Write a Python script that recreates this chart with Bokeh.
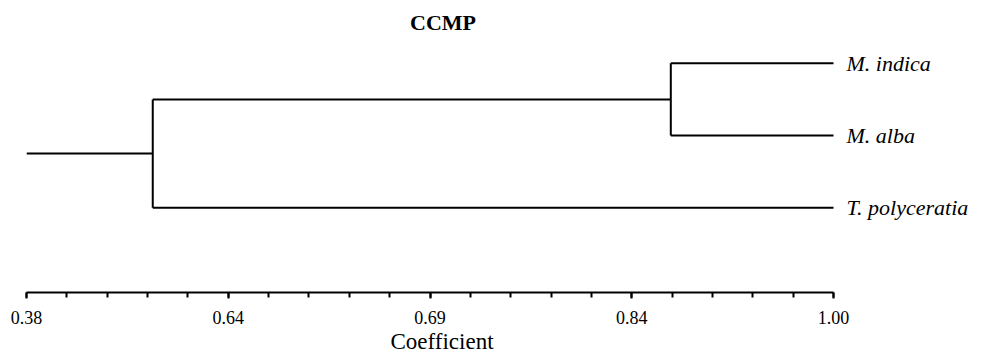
from bokeh.plotting import figure
from bokeh.models import Range1d, FixedTicker, Label, ColumnDataSource, Title
from bokeh.core.properties import value
from bokeh.embed import file_html
from bokeh.resources import INLINE

# ---- data ----
title_text = "CCMP"
axis_title = "Coefficient"
leaves = ["M. indica", "M. alba", "T. polyceratia"]
leaf_rank = [3, 2, 1]              # vertical order (top to bottom)
leaf_coef = [1.00, 1.00, 1.00]     # leaves at similarity 1.00
node_mulberry = 0.875              # M. indica + M. alba join
node_root = 0.477                  # (M. indica, M. alba) + T. polyceratia join
root_start = 0.38
tick_values = [0.38, 0.535, 0.69, 0.845, 1.00]
tick_labels = ["0.38", "0.64", "0.69", "0.84", "1.00"]

SERIF = "Liberation Serif"

# ---- build dendrogram segments from the merge values ----
yi, ya, yt = leaf_rank
y_m = (yi + ya) / 2.0
y_r = (y_m + yt) / 2.0
x0 = [node_mulberry, node_mulberry, node_mulberry, node_root, node_root, node_root, root_start]
y0 = [yi, ya, ya, y_m, yt, yt, y_r]
x1 = [leaf_coef[0], leaf_coef[1], node_mulberry, node_mulberry, leaf_coef[2], node_root, node_root]
y1 = [yi, ya, yi, y_m, yt, y_m, y_r]

W, H = 982, 353
left_border = 26
px_per_unit = (833 - 26) / (1.00 - 0.38)
x_start = 0.38
x_end = 0.38 + (W - left_border) / px_per_unit
py = 72.5           # px per y unit
y1px = 208          # pixel row of rank 1
frame_bottom = 293
y_lo = 1 - (frame_bottom - y1px) / py
y_hi = 1 + y1px / py

p = figure(width=W, height=H, output_backend="svg", toolbar_location=None,
           x_range=Range1d(x_start, x_end), y_range=Range1d(y_lo, y_hi),
           y_axis_type=None, min_border_left=left_border, min_border_right=0,
           min_border_top=0, min_border_bottom=H - frame_bottom)
p.outline_line_color = None
p.xgrid.visible = False
p.ygrid.visible = False
p.background_fill_color = "white"
p.border_fill_color = "white"

p.segment(x0=x0, y0=y0, x1=x1, y1=y1, line_color="black", line_width=2)

src = ColumnDataSource(dict(x=leaf_coef, y=leaf_rank, t=leaves))
p.text(x="x", y="y", text="t", source=src, x_offset=13, text_baseline="middle",
       text_align="left", text_font=value(SERIF), text_font_style="italic",
       text_font_size="22px", text_color="black")

ax = p.xaxis[0]
step = tick_values[1] - tick_values[0]
minor = [tick_values[0] + i * step / 5 for i in range(0, 21)]
ax.ticker = FixedTicker(ticks=tick_values, minor_ticks=minor)
ax.major_label_overrides = {v: l for v, l in zip(tick_values, tick_labels)}
ax.bounds = (0.38, 1.00)
ax.axis_line_width = 2
ax.axis_line_color = "black"
ax.major_tick_line_width = 2
ax.minor_tick_line_width = 2
ax.major_tick_out = 6
ax.major_tick_in = 0
ax.minor_tick_out = 5
ax.minor_tick_in = 0
ax.major_label_standoff = 12
ax.major_label_text_font = SERIF
ax.major_label_text_font_size = "18px"
ax.major_label_text_color = "black"

p.add_layout(Title(text=axis_title, align="left", offset=364, standoff=0,
                   text_font=SERIF, text_font_style="normal", text_font_size="23px",
                   text_color="black"), "below")

p.add_layout(Label(x=0.70, y=1 + (y1px - 22) / py, text=title_text, text_align="center",
                   text_baseline="alphabetic", text_font=SERIF, text_font_style="bold",
                   text_font_size="22px", text_color="black"))

open("out.html", "w").write(file_html(p, INLINE))
